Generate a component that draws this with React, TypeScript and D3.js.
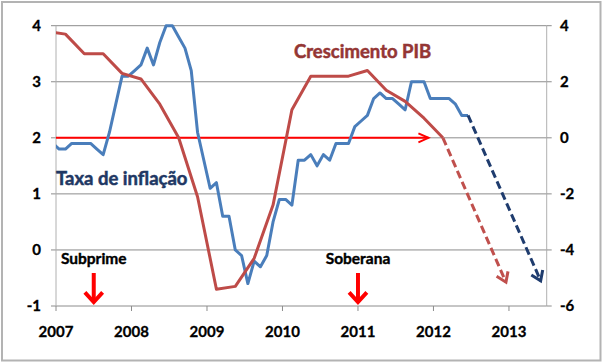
import React from "react";
import * as d3 from "d3";

// Taxa de inflação (monthly, left axis), first value = Dec 2006
const inflationStart = { year: 2006, month: 12 };
const inflation = [
  1.9,
  1.8, 1.8, 1.9, 1.9, 1.9, 1.9, 1.8, 1.7, 2.1, 2.6, 3.1, 3.1,
  3.2, 3.3, 3.6, 3.3, 3.7, 4.0, 4.0, 3.8, 3.6, 3.2, 2.1, 1.6,
  1.1, 1.2, 0.6, 0.6, 0.0, -0.1, -0.6, -0.2, -0.3, -0.1, 0.5, 0.9,
  0.9, 0.8, 1.6, 1.6, 1.7, 1.5, 1.7, 1.6, 1.9, 1.9, 1.9, 2.2,
  2.3, 2.4, 2.7, 2.8, 2.7, 2.7, 2.6, 2.5, 3.0, 3.0, 3.0, 2.7,
  2.7, 2.7, 2.7, 2.6, 2.4, 2.4,
];
// projected end of the inflation arrow (year, value)
const inflationForecastEnd = { t: 2013.42, v: -0.55 };

// Crescimento PIB (quarterly, right axis), first value = 2006 Q4
const gdpStart = { year: 2006, quarter: 4 };
const gdp = [
  3.8,
  3.7, 3.0, 3.0, 2.3,
  2.1, 1.2, 0.0, -2.1,
  -5.4, -5.3, -4.3, -2.4,
  1.0, 2.2, 2.2, 2.2,
  2.4, 1.7, 1.3, 0.7,
  0.0,
];
const gdpForecastEnd = { t: 2012.96, v: -5.15 };

const yearTicks = [2007, 2008, 2009, 2010, 2011, 2012, 2013];
const leftTicks = [4, 3, 2, 1, 0, -1];
const rightTicks = [4, 2, 0, -2, -4, -6];
const targetLine = { value: 2, endYear: 2012.0 };
const events = [
  { label: "Subprime", t: 2007.5 },
  { label: "Soberana", t: 2011.0 },
];

const W = 604;
const H = 364;
const FONT = "Lato, 'Open Sans', sans-serif";

const monthT = (start: { year: number; month: number }, i: number) =>
  start.year + (start.month - 1 + i + 0.5) / 12;
const quarterT = (start: { year: number; quarter: number }, i: number) =>
  start.year + ((start.quarter - 1 + i) * 3 + 1.5) / 12;

function chevron(tipX: number, tipY: number, angle: number, len: number, spread: number) {
  const a1 = angle + Math.PI - spread;
  const a2 = angle + Math.PI + spread;
  return `M${tipX + len * Math.cos(a1)},${tipY + len * Math.sin(a1)}L${tipX},${tipY}L${tipX + len * Math.cos(a2)},${tipY + len * Math.sin(a2)}`;
}

export default function App() {
  const x = d3.scaleLinear().domain([2007, 2013.5]).range([56, 546.7]);
  const yL = d3.scaleLinear().domain([-1, 4]).range([306, 25.7]);
  const yR = d3.scaleLinear().domain([-6, 4]).range([306, 25.7]);

  const infPts: [number, number][] = inflation.map((v, i) => [x(monthT(inflationStart, i)), yL(v)]);
  const gdpPts: [number, number][] = gdp.map((v, i) => [x(quarterT(gdpStart, i)), yR(v)]);
  const line = d3.line();

  const infLast = infPts[infPts.length - 1];
  const infEnd: [number, number] = [x(inflationForecastEnd.t), yL(inflationForecastEnd.v)];
  const gdpLast = gdpPts[gdpPts.length - 1];
  const gdpEnd: [number, number] = [x(gdpForecastEnd.t), yR(gdpForecastEnd.v)];
  const angInf = Math.atan2(infEnd[1] - infLast[1], infEnd[0] - infLast[0]);
  const angGdp = Math.atan2(gdpEnd[1] - gdpLast[1], gdpEnd[0] - gdpLast[0]);

  const [x0, x1] = x.range();
  const tgtY = yL(targetLine.value);
  const tgtEnd = x(targetLine.endYear) - 5;

  return (
    <svg width={W} height={H} style={{ position: "absolute", left: 0, top: 0, background: "#fff" }} fontFamily={FONT}>
      <defs>
        <clipPath id="plot">
          <rect x={x0} y={0} width={x1 - x0} height={H} />
        </clipPath>
      </defs>
      <rect x={2} y={2} width={598.5} height={358.5} fill="#fff" stroke="#b3b3b3" strokeWidth={2} />

      {/* gridlines */}
      {leftTicks.map((t) => (
        <line key={t} x1={x0 - 5} x2={x1} y1={yL(t)} y2={yL(t)} stroke="#8c8c8c" strokeWidth={1} />
      ))}
      {/* axes */}
      <line x1={x0} x2={x0} y1={yL(4)} y2={yL(-1)} stroke="#b0b0b0" strokeWidth={1} />
      <line x1={x1} x2={x1} y1={yR(4)} y2={yR(-6)} stroke="#b0b0b0" strokeWidth={1} />
      {rightTicks.map((t) => (
        <line key={t} x1={x1} x2={x1 + 5} y1={yR(t)} y2={yR(t)} stroke="#8c8c8c" />
      ))}
      {yearTicks.map((t) => (
        <line key={t} x1={x(t)} x2={x(t)} y1={yL(-1)} y2={yL(-1) + 5} stroke="#8c8c8c" />
      ))}

      {/* tick labels */}
      <g fontSize={15} fontWeight="bold" fill="#000" stroke="#000" strokeWidth={0.3}>
        {leftTicks.map((t) => (
          <text key={t} x={41} y={yL(t) + 5} textAnchor="end">
            {t}
          </text>
        ))}
        {rightTicks.map((t) => (
          <text key={t} x={560} y={yR(t) + 5} textAnchor="start">
            {t}
          </text>
        ))}
        {yearTicks.map((t) => (
          <text key={t} x={x(t)} y={337} textAnchor="middle">
            {t}
          </text>
        ))}
      </g>

      {/* target line */}
      <line x1={x0} x2={tgtEnd} y1={tgtY} y2={tgtY} stroke="#ff0000" strokeWidth={2} />
      <path d={chevron(tgtEnd, tgtY, 0, 11, 0.42)} fill="none" stroke="#ff0000" strokeWidth={2} />

      <g clipPath="url(#plot)" fill="none" strokeLinejoin="round">
        <path d={line(infPts) ?? ""} stroke="#4a7ebb" strokeWidth={3} />
        <path d={line(gdpPts) ?? ""} stroke="#be4b48" strokeWidth={3} />
      </g>

      {/* forecasts */}
      <g fill="none" strokeWidth={3}>
        <path d={line([gdpLast, gdpEnd]) ?? ""} stroke="#c0504d" strokeDasharray="8,4" />
        <path d={chevron(gdpEnd[0], gdpEnd[1], angGdp, 11, 0.6)} stroke="#c0504d" />
        <path d={line([infLast, infEnd]) ?? ""} stroke="#1f3c6e" strokeDasharray="8,4" />
        <path d={chevron(infEnd[0], infEnd[1], angInf, 11, 0.6)} stroke="#1f3c6e" />
      </g>

      {/* events */}
      {events.map((e) => (
        <g key={e.label}>
          <text x={x(e.t)} y={264} textAnchor="middle" fontSize={15.5} fontWeight="bold" fill="#000" stroke="#000" strokeWidth={0.4}>
            {e.label}
          </text>
          <line x1={x(e.t)} x2={x(e.t)} y1={273} y2={301} stroke="#ff0000" strokeWidth={4} />
          <path d={chevron(x(e.t), 302, Math.PI / 2, 13, 0.75)} fill="none" stroke="#ff0000" strokeWidth={4} />
        </g>
      ))}

      <text x={294} y={58} fontSize={18.5} fontWeight="bold" fill="#943634" stroke="#943634" strokeWidth={0.5}>
        Crescimento PIB
      </text>
      <text x={56} y={184.5} fontSize={18.5} fontWeight="bold" fill="#1f3864" stroke="#1f3864" strokeWidth={0.5}>
        Taxa de inflação
      </text>
    </svg>
  );
}
